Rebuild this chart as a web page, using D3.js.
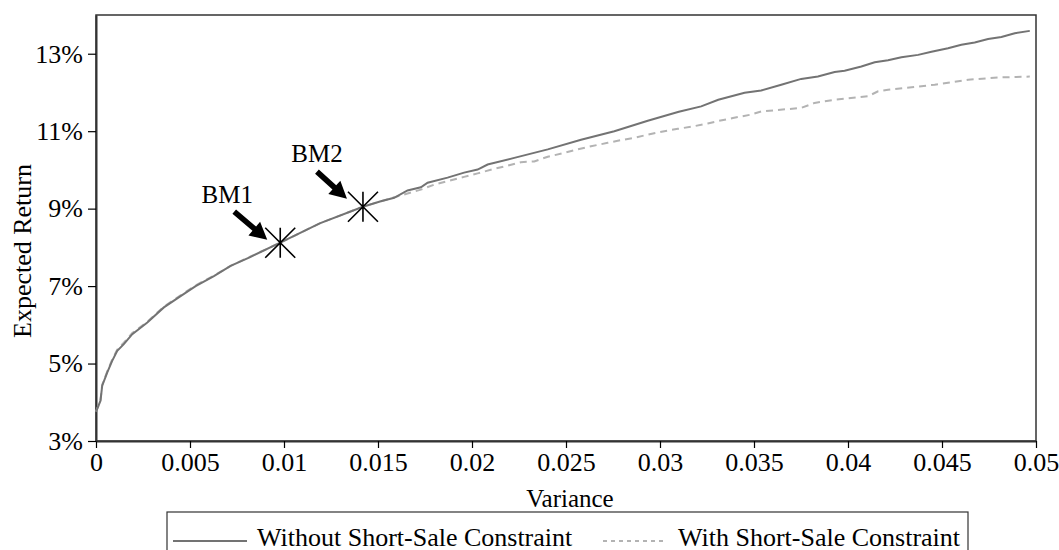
<!DOCTYPE html>
<html>
<head>
<meta charset="utf-8">
<script src="https://cdn.jsdelivr.net/npm/d3@7/dist/d3.min.js"></script>
<style>
  html, body { margin: 0; padding: 0; background: #fff; }
  svg { display: block; }
  svg text { font-family: "Liberation Serif", "Times New Roman", serif !important; }
</style>
</head>
<body>
<svg id="chart" width="1059" height="550"></svg>
<script>
// Efficient frontier without the short-sale constraint (variance, expected return %)
const freeVariance = [0, 0.00024, 0.00033, 0.0006, 0.00086, 0.00113, 0.00148, 0.00193, 0.00273, 0.00361,
  0.0045, 0.0053, 0.00627, 0.00716, 0.0082, 0.0098, 0.0119, 0.0142, 0.01515, 0.01586,
  0.01657, 0.01728, 0.01764, 0.0187, 0.01958, 0.0203, 0.02083, 0.02225, 0.02403, 0.0258,
  0.02757, 0.02935, 0.031, 0.03219, 0.0331, 0.0345, 0.03538, 0.03645, 0.03751, 0.0384,
  0.03929, 0.03982, 0.04071, 0.04142, 0.04213, 0.04284, 0.04373, 0.04444, 0.04532, 0.04603,
  0.04674, 0.04745, 0.04816, 0.04887, 0.04967];
const freeReturn = [3.75, 4.04, 4.43, 4.77, 5.07, 5.33, 5.50, 5.76, 6.06, 6.45,
  6.74, 7.00, 7.26, 7.52, 7.75, 8.12, 8.62, 9.05, 9.19, 9.28,
  9.47, 9.55, 9.67, 9.80, 9.93, 10.01, 10.14, 10.31, 10.53, 10.78,
  11.00, 11.27, 11.50, 11.64, 11.81, 11.99, 12.05, 12.20, 12.35, 12.41,
  12.53, 12.56, 12.67, 12.78, 12.83, 12.91, 12.97, 13.05, 13.14, 13.23,
  13.29, 13.38, 13.43, 13.53, 13.59];

// Efficient frontier with the short-sale constraint
const constrainedVariance = [0, 0.00024, 0.00033, 0.0006, 0.00086, 0.00113, 0.00148, 0.00193, 0.00273, 0.00361,
  0.0045, 0.0053, 0.00627, 0.00716, 0.0082, 0.0098, 0.0119, 0.0142, 0.01515, 0.01657,
  0.01728, 0.01799, 0.0187, 0.01958, 0.0203, 0.02118, 0.0219, 0.0226, 0.02331, 0.02403,
  0.02491, 0.02562, 0.02633, 0.02722, 0.02793, 0.02864, 0.02935, 0.03023, 0.03095, 0.03183,
  0.03254, 0.03308, 0.03388, 0.03486, 0.03538, 0.03751, 0.03822, 0.03929, 0.04106, 0.0416,
  0.04213, 0.04461, 0.04639, 0.04816, 0.04967];
const constrainedReturn = [3.76, 4.06, 4.45, 4.80, 5.10, 5.36, 5.54, 5.79, 6.08, 6.47,
  6.76, 7.02, 7.27, 7.52, 7.76, 8.12, 8.62, 9.05, 9.19, 9.39,
  9.49, 9.62, 9.71, 9.82, 9.91, 10.03, 10.11, 10.20, 10.22, 10.34,
  10.44, 10.53, 10.61, 10.70, 10.77, 10.83, 10.91, 11.00, 11.06, 11.13,
  11.20, 11.26, 11.34, 11.43, 11.51, 11.60, 11.73, 11.81, 11.90, 12.03,
  12.07, 12.20, 12.33, 12.39, 12.41];

// Benchmark portfolios
const benchmarkNames = ["BM1", "BM2"];
const benchmarkVariance = [0.0098, 0.0142];
const benchmarkReturn = [8.12, 9.05];

// Axis ticks
const xTickValues = [0, 0.005, 0.01, 0.015, 0.02, 0.025, 0.03, 0.035, 0.04, 0.045, 0.05];
const xTickLabels = ["0", "0.005", "0.01", "0.015", "0.02", "0.025", "0.03", "0.035", "0.04", "0.045", "0.05"];
const yTickValues = [3, 5, 7, 9, 11, 13];
const yTickLabels = ["3%", "5%", "7%", "9%", "11%", "13%"];

const seriesNames = ["Without Short-Sale Constraint", "With Short-Sale Constraint"];

const SERIF = "'Liberation Serif', 'Times New Roman', serif";
const svg = d3.select("#chart").style("font-family", SERIF);
const plot = { left: 96, right: 1036, top: 15, bottom: 441 };

const x = d3.scaleLinear().domain([0, 0.05]).range([plot.left, plot.right]);
const y = d3.scaleLinear().domain([3, 14]).range([plot.bottom, plot.top]);

const TICK_FONT = 26;
const axisColor = "#333";

// Plot frame
svg.append("rect")
  .attr("x", plot.left).attr("y", plot.top)
  .attr("width", plot.right - plot.left).attr("height", plot.bottom - plot.top)
  .attr("fill", "none").attr("stroke", axisColor).attr("stroke-width", 1.5);

// X axis
const xAxis = d3.axisBottom(x)
  .tickValues(xTickValues)
  .tickFormat((d, i) => xTickLabels[i])
  .tickSizeInner(7).tickSizeOuter(0).tickPadding(5);
const gx = svg.append("g").attr("transform", `translate(0,${plot.bottom})`).call(xAxis)
  .attr("font-family", SERIF).attr("font-size", TICK_FONT);
gx.select(".domain").attr("stroke", axisColor).attr("stroke-width", 2);
gx.selectAll(".tick line").attr("stroke", "#000").attr("stroke-width", 1.2);
gx.selectAll(".tick text").attr("fill", "#000");

// Y axis
const yAxis = d3.axisLeft(y)
  .tickValues(yTickValues)
  .tickFormat((d, i) => yTickLabels[i])
  .tickSizeInner(8).tickSizeOuter(0).tickPadding(5);
const gy = svg.append("g").attr("transform", `translate(${plot.left},0)`).call(yAxis)
  .attr("font-family", SERIF).attr("font-size", TICK_FONT);
gy.select(".domain").attr("stroke", axisColor).attr("stroke-width", 2);
gy.selectAll(".tick line").attr("stroke", "#000").attr("stroke-width", 1.2);
gy.selectAll(".tick text").attr("fill", "#000");

// Axis titles
svg.append("text")
  .attr("x", 570).attr("y", 507)
  .attr("text-anchor", "middle").attr("font-size", 25).attr("fill", "#000")
  .text("Variance");
svg.append("text")
  .attr("transform", `translate(31,251) rotate(-90)`)
  .attr("text-anchor", "middle").attr("font-size", 26).attr("fill", "#000")
  .text("Expected Return");

// Frontier lines
const line = d3.line().x(d => x(d[0])).y(d => y(d[1]));
const constrained = constrainedVariance.map((v, i) => [v, constrainedReturn[i]]);
const free = freeVariance.map((v, i) => [v, freeReturn[i]]);

svg.append("path").datum(constrained)
  .attr("d", line).attr("fill", "none")
  .attr("stroke", "#b3b3b3").attr("stroke-width", 2)
  .attr("stroke-dasharray", "7,5");
svg.append("path").datum(free)
  .attr("d", line).attr("fill", "none")
  .attr("stroke", "#737373").attr("stroke-width", 2);

// Benchmark markers: star, arrow and label
const bm = svg.append("g");
benchmarkNames.forEach((name, i) => {
  const cx = x(benchmarkVariance[i]);
  const cy = y(benchmarkReturn[i]);
  const r = 15;
  const g = bm.append("g").attr("transform", `translate(${cx},${cy})`);
  g.append("path")
    .attr("d", `M0,${-r}L0,${r}M${-r},${-r}L${r},${r}M${-r},${r}L${r},${-r}`)
    .attr("stroke", "#000").attr("stroke-width", 1.6).attr("fill", "none");

  // thick arrow pointing down-right at the marker
  const tail = i === 0 ? [-46, -31] : [-46, -35];
  const tip = i === 0 ? [-13, -3] : [-16, -8];
  const dx = tip[0] - tail[0], dy = tip[1] - tail[1];
  const len = Math.hypot(dx, dy);
  const ang = Math.atan2(dy, dx) * 180 / Math.PI;
  const headL = 17, headW = 9, shaftW = 2.8;
  g.append("path")
    .attr("transform", `translate(${tail[0]},${tail[1]}) rotate(${ang})`)
    .attr("d", `M0,${-shaftW}L${len - headL},${-shaftW}L${len - headL},${-headW}L${len},0L${len - headL},${headW}L${len - headL},${shaftW}L0,${shaftW}Z`)
    .attr("fill", "#000");

  g.append("text")
    .attr("x", i === 0 ? -53 : -46)
    .attr("y", i === 0 ? -40 : -45)
    .attr("text-anchor", "middle").attr("font-size", 25).attr("fill", "#000")
    .text(name);
});

// Legend
const legend = svg.append("g");
legend.append("rect")
  .attr("x", 167).attr("y", 512).attr("width", 801).attr("height", 60)
  .attr("fill", "#fff").attr("stroke", axisColor).attr("stroke-width", 1.2);
const legendItems = [
  { name: seriesNames[0], x0: 173, x1: 247, tx: 257, color: "#737373", dash: null },
  { name: seriesNames[1], x0: 603, x1: 667, tx: 678, color: "#b3b3b3", dash: "4,4" }
];
legendItems.forEach(it => {
  legend.append("line")
    .attr("x1", it.x0).attr("x2", it.x1).attr("y1", 541).attr("y2", 541)
    .attr("stroke", it.color).attr("stroke-width", 2)
    .attr("stroke-dasharray", it.dash);
  legend.append("text")
    .attr("x", it.tx).attr("y", 546)
    .attr("font-size", 26).attr("fill", "#000")
    .text(it.name);
});
</script>
</body>
</html>
